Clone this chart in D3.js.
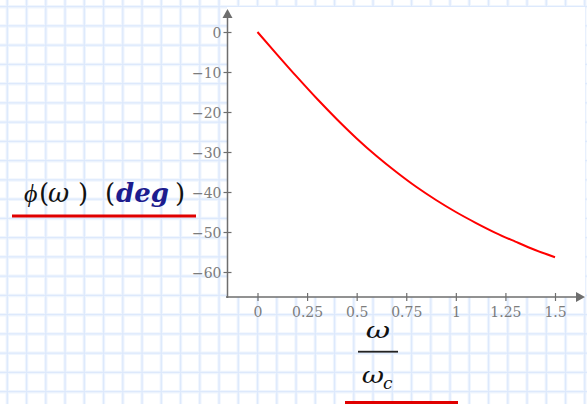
<!DOCTYPE html>
<html><head><meta charset="utf-8">
<script src="https://cdn.jsdelivr.net/npm/d3@7"></script>
<style>body{margin:0;background:#fff;} svg{display:block}</style>
</head><body><svg id="c" width="587" height="404"></svg>
<script>
// ---- data ----
const omegaRatio = [0, 0.1, 0.2, 0.3, 0.4, 0.5, 0.6, 0.7, 0.8, 0.9, 1.0, 1.1, 1.2, 1.3, 1.4, 1.5];
const phaseDeg   = [0, -5.7, -11.3, -16.7, -21.8, -26.6, -31.0, -35.0, -38.7, -42.0, -45.0, -47.7, -50.2, -52.4, -54.5, -56.3];
const xTicks = [0, 0.25, 0.5, 0.75, 1, 1.25, 1.5];
const xTickLabels = ["0", "0.25", "0.5", "0.75", "1", "1.25", "1.5"];
const yTicks = [0, -10, -20, -30, -40, -50, -60];
const yTickLabels = ["0", "\u221210", "\u221220", "\u221230", "\u221240", "\u221250", "\u221260"];

const W = 587, H = 404;
const svg = d3.select("#c");

// background grid (worksheet)
const bg = svg.append("g");
const gx = d3.range(0, 31).map(k => 7.3 + 19.25 * k).filter(v => v < W);
const gy = d3.range(0, 22).map(k => 6.7 + 19.25 * k).filter(v => v < H);
[["#f0f6fe", 3.4], ["#dde9fc", 1.3]].forEach(([c, w]) => {
  bg.selectAll(null).data(gx).enter().append("line")
    .attr("x1", d => d).attr("x2", d => d).attr("y1", 0).attr("y2", H)
    .attr("stroke", c).attr("stroke-width", w);
  bg.selectAll(null).data(gy).enter().append("line")
    .attr("y1", d => d).attr("y2", d => d).attr("x1", 0).attr("x2", W)
    .attr("stroke", c).attr("stroke-width", w);
});

// scales
const x = d3.scaleLinear().domain([0, 1.5]).range([257.5, 555]);
const y = d3.scaleLinear().domain([0, -60]).range([32, 272]);
const axisY = 297, axisX = 227.5;

// plot white area
svg.append("rect").attr("x", 227).attr("y", 7).attr("width", 585 - 227).attr("height", axisY - 7).attr("fill", "#fff");

const axisColor = "#6e6e6e", labColor = "#7c7c7c";
const tickFont = "DejaVu Serif";

// x axis
const xa = svg.append("g").attr("transform", `translate(0,${axisY})`)
  .call(d3.axisBottom(x).tickValues(xTicks).tickFormat((d, i) => xTickLabels[i]).tickSize(4))
  .attr("font-family", tickFont).attr("font-size", 14);
xa.select(".domain").remove();
xa.selectAll(".tick line").attr("y1", -4).attr("y2", 4).attr("stroke", axisColor).attr("stroke-width", 1.2);
xa.selectAll(".tick text").attr("y", 20).attr("dy", 0).attr("fill", labColor);

// y axis
const ya = svg.append("g").attr("transform", `translate(${axisX},0)`)
  .call(d3.axisLeft(y).tickValues(yTicks).tickFormat((d, i) => yTickLabels[i]).tickSize(4))
  .attr("font-family", tickFont).attr("font-size", 14);
ya.select(".domain").remove();
ya.selectAll(".tick line").attr("x1", -4).attr("x2", 4).attr("stroke", axisColor).attr("stroke-width", 1.2);
ya.selectAll(".tick text").attr("x", -6).attr("dy", "0.36em").attr("fill", labColor);

// axis lines with arrows
svg.append("line").attr("x1", 226).attr("x2", 578).attr("y1", axisY).attr("y2", axisY)
  .attr("stroke", axisColor).attr("stroke-width", 1.5);
svg.append("path").attr("d", `M585,${axisY} L576,${axisY - 5} L576,${axisY + 5} Z`).attr("fill", axisColor);
svg.append("line").attr("x1", axisX).attr("x2", axisX).attr("y1", 298).attr("y2", 16)
  .attr("stroke", axisColor).attr("stroke-width", 1.5);
svg.append("path").attr("d", `M${axisX},9 L${axisX - 5},18 L${axisX + 5},18 Z`).attr("fill", axisColor);

// curve
const line = d3.line().x((d, i) => x(omegaRatio[i])).y(d => y(d)).curve(d3.curveMonotoneX);
svg.append("path").datum(phaseDeg).attr("d", line)
  .attr("fill", "none").attr("stroke", "#ff0000").attr("stroke-width", 2);

// y label: ϕ(ω) (deg)
const mf = "DejaVu Serif";
const yl = svg.append("g").attr("font-family", mf).attr("font-size", 26).attr("fill", "#111");
yl.append("text").attr("x", 24).attr("y", 202).attr("font-family", "Liberation Serif")
  .attr("font-style", "italic").text("\u03D5");
yl.append("text").attr("x", 39).attr("y", 202).text("(");
yl.append("text").attr("x", 48).attr("y", 202).attr("font-style", "italic").text("\u03C9");
yl.append("text").attr("x", 78).attr("y", 202).text(")");
yl.append("text").attr("x", 105).attr("y", 202).text("(");
yl.append("text").attr("x", 116).attr("y", 202).attr("font-style", "italic").attr("font-weight", "bold")
  .attr("fill", "#1c1c8e").text("deg");
yl.append("text").attr("x", 175).attr("y", 202).text(")");
svg.append("rect").attr("x", 12).attr("y", 214.5).attr("width", 184).attr("height", 3).attr("fill", "#e00000");

// x label: ω / ω_c
const xl = svg.append("g").attr("font-family", mf).attr("font-style", "italic").attr("fill", "#111");
xl.append("text").attr("transform", "translate(378,338) scale(1.15,0.85)").attr("text-anchor", "middle")
  .attr("font-size", 26).text("\u03C9");
svg.append("rect").attr("x", 358).attr("y", 350.8).attr("width", 40).attr("height", 1.8).attr("fill", "#222");
xl.append("text").attr("transform", "translate(373,382.5) scale(1.05,0.85)").attr("text-anchor", "middle")
  .attr("font-size", 26).text("\u03C9");
xl.append("text").attr("x", 383).attr("y", 389).attr("font-size", 17).text("c");
svg.append("rect").attr("x", 345).attr("y", 401).attr("width", 113).attr("height", 3).attr("fill", "#e00000");
</script></body></html>
